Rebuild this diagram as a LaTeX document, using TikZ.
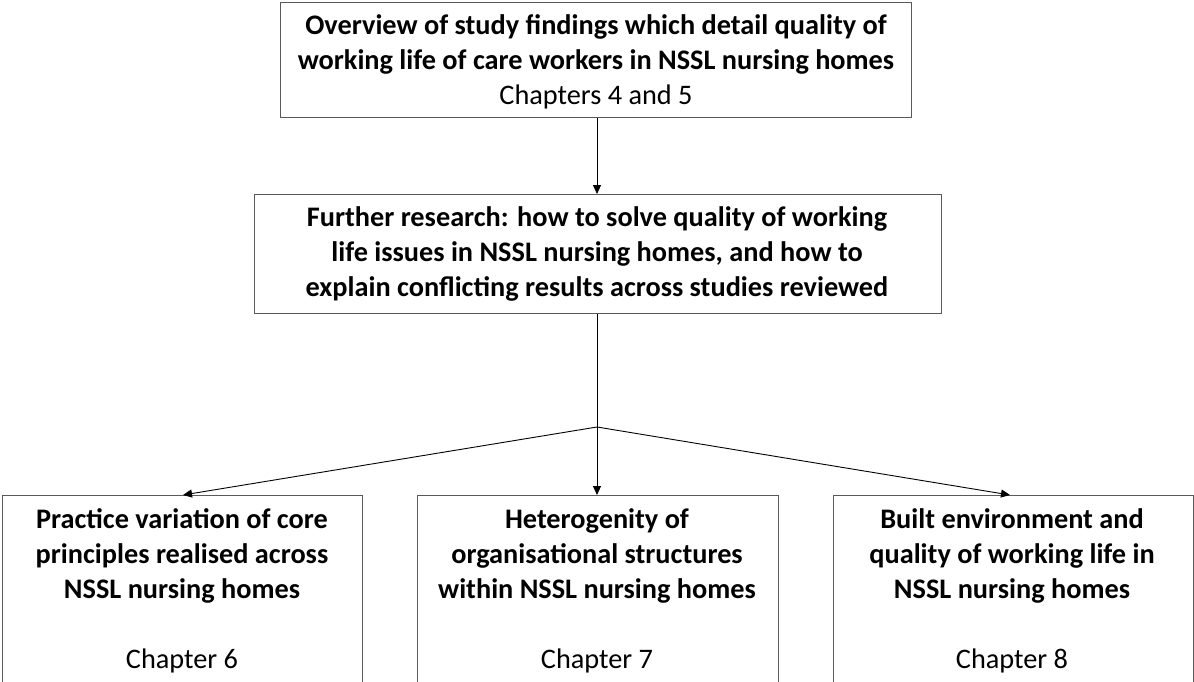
\documentclass[tikz,border=0pt]{standalone}
\usepackage{fontspec}
\setmainfont{Carlito}
\usetikzlibrary{arrows.meta}
\begin{document}
\begin{tikzpicture}[x=1pt,y=-1pt,
  box/.style={draw=black!65, line width=1.3pt, rectangle, inner sep=0pt, fill=white},
  txt/.style={align=center, inner sep=0pt, font=\fontsize{28.3}{35}\selectfont},
  conn/.style={line width=0.9pt, draw=black},
  arr/.style={conn, -{Triangle[length=9pt, width=8pt]}}]
\useasboundingbox (0,0) rectangle (1194,682);
\clip (0,0) rectangle (1194,682);
% top: overview of findings
\node[box, minimum width=631, minimum height=115, anchor=north west] (top) at (280,2) {};
\node[txt, anchor=north] (toptxt) at (596,14) {\textbf{Overview of study findings which detail quality of}\\
  \textbf{working life of care workers in NSSL nursing homes}\\ Chapters 4 and 5};
% middle: further research
\node[box, minimum width=687, minimum height=119, anchor=north west] (mid) at (254,194) {};
\node[txt, anchor=north] (midtxt) at (597,206) {\textbf{Further research: how to solve quality of working}\\
  \textbf{life issues in NSSL nursing homes, and how to}\\
  \textbf{explain conflicting results across studies reviewed}};
% branch point
\coordinate (fork) at (597,427);
% bottom row: chapters 6--8
\node[box, minimum width=360, minimum height=220, anchor=north west] (c6) at (2,495) {};
\node[box, minimum width=361, minimum height=220, anchor=north west] (c7) at (417,495) {};
\node[box, minimum width=360, minimum height=220, anchor=north west] (c8) at (833,495) {};
\node[txt, anchor=north] (c6txt) at (182,508) {\textbf{Practice variation of core}\\
  \textbf{principles realised across}\\ \textbf{NSSL nursing homes}\\[35pt] Chapter 6};
\node[txt, anchor=north] (c7txt) at (597,508) {\textbf{Heterogenity of}\\
  \textbf{organisational structures}\\ \textbf{within NSSL nursing homes}\\[35pt] Chapter 7};
\node[txt, anchor=north] (c8txt) at (1012,508) {\textbf{Built environment and}\\
  \textbf{quality of working life in}\\ \textbf{NSSL nursing homes}\\[35pt] Chapter 8};
% connectors
\draw[arr] (top.south -| fork) -- (mid.north -| fork);
\draw[conn] (mid.south -| fork) -- (fork);
\draw[arr] (fork) -- (183,495);
\draw[arr] (fork) -- (c7.north -| fork);
\draw[arr] (fork) -- (1010,495);
\end{tikzpicture}
\end{document}
